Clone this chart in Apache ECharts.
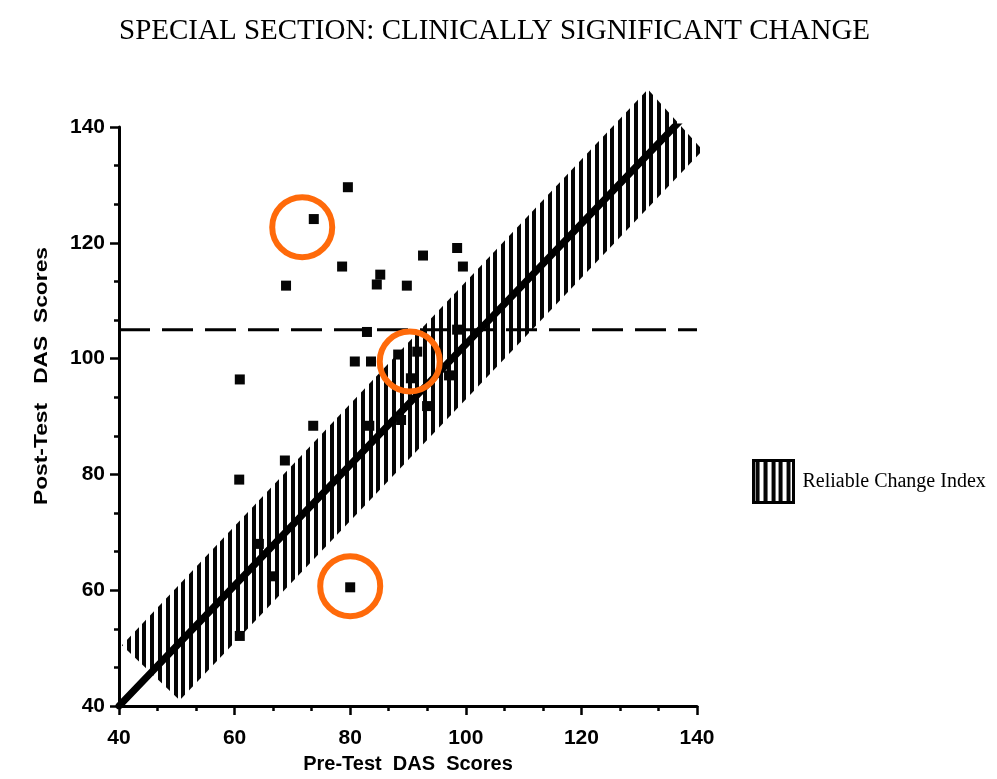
<!DOCTYPE html>
<html>
<head>
<meta charset="utf-8">
<script src="https://cdn.jsdelivr.net/npm/echarts@6/dist/echarts.min.js"></script>
<style>
  html, body { margin: 0; padding: 0; background: #fff; }
  #chart { width: 997px; height: 779px; }
</style>
</head>
<body>
<div id="chart"></div>
<script>
// Pre-test vs post-test DAS scores, one point per client
const preScores  = [73.7, 79.6, 68.9, 78.6, 85.2, 84.6, 89.8, 92.6, 98.5, 99.5,
                    82.9, 98.5, 80.8, 83.6, 88.3, 91.6, 90.5, 97.1, 93.3, 88.8,
                    83.3, 73.6, 60.9, 68.7, 60.8, 64.2, 66.6, 60.9, 80.0];
const postScores = [124.1, 129.6, 112.6, 115.9, 114.5, 112.8, 112.6, 117.8, 119.1, 115.9,
                    104.6, 105.0, 99.5, 99.5, 100.7, 101.2, 96.6, 97.1, 91.8, 89.4,
                    88.4, 88.4, 96.4, 82.4, 79.1, 68.0, 62.4, 52.1, 60.5];

// No-change diagonal (pre = post)
const diagX = [40, 137];
const diagY = [40, 141];

// Reliable Change Index band around the diagonal (corner points)
const bandX = [40.5, 131.5, 141, 50.5];
const bandY = [50.5, 146.5, 136, 41];

// Cutoff for the functional (clinical) range
const cutoffX = [40, 140];
const cutoffY = [105, 105];

// Highlighted clients
const markX = [71.7, 90.3, 80.0];
const markY = [122.7, 99.5, 60.7];

const axisTicks = { min: 40, max: 140, interval: 20 };
const titleText = 'SPECIAL SECTION: CLINICALLY SIGNIFICANT CHANGE';
const xName = 'Pre-Test  DAS  Scores';
const yName = 'Post-Test   DAS  Scores';
const bandName = 'Reliable Change Index';

// vertical hatch texture for the RCI band
function hatchPattern() {
  const c = document.createElement('canvas');
  c.width = 39; c.height = 8;
  const ctx = c.getContext('2d');
  ctx.fillStyle = '#ffffff';
  ctx.fillRect(0, 0, c.width, c.height);
  ctx.fillStyle = '#050505';
  for (let i = 0; i < 5; i++) {
    ctx.fillRect(Math.round(i * 7.8) + 2, 0, 4, c.height);
  }
  return { image: c, repeat: 'repeat' };
}
const hatch = hatchPattern();

const zip = (a, b) => a.map((v, i) => [v, b[i]]);

const chart = echarts.init(document.getElementById('chart'), null, { renderer: 'canvas' });

const axisCommon = {
  type: 'value',
  min: axisTicks.min, max: axisTicks.max, interval: axisTicks.interval,
  axisLine: { show: true, lineStyle: { color: '#000', width: 3 } },
  axisTick: { show: true, length: 9, lineStyle: { color: '#000', width: 2.5 } },
  minorTick: { show: true, splitNumber: 3, length: 5, lineStyle: { color: '#000', width: 2.5 } },
  splitLine: { show: false },
  axisLabel: { color: '#000', fontFamily: 'Liberation Sans', fontWeight: 'bold', fontSize: 21 }
};

chart.setOption({
  backgroundColor: '#fff',
  animation: false,
  title: {
    text: titleText,
    left: 114, top: 12,
    textStyle: { fontFamily: 'Liberation Serif', fontWeight: 'normal', fontSize: 29, color: '#000' }
  },
  legend: {
    left: 752, top: 459,
    padding: 0,
    orient: 'vertical',
    itemWidth: 40, itemHeight: 42,
    selectedMode: false,
    textStyle: { fontFamily: 'Liberation Serif', fontSize: 20, color: '#000', padding: [0, 0, 0, 4] },
    data: [{ name: bandName, icon: 'rect', itemStyle: { color: hatch, borderColor: '#000', borderWidth: 3 } }]
  },
  grid: { left: 119, right: 300, top: 127, bottom: 68, containLabel: false },
  xAxis: Object.assign({}, axisCommon, {
    name: xName, nameLocation: 'middle', nameGap: 48,
    nameTextStyle: { fontFamily: 'Liberation Sans', fontWeight: 'bold', fontSize: 20, color: '#000' },
    axisLabel: Object.assign({}, axisCommon.axisLabel, { margin: 22 })
  }),
  yAxis: Object.assign({}, axisCommon, {
    axisLabel: Object.assign({}, axisCommon.axisLabel, { margin: 14 })
  }),
  graphic: [{
    type: 'text',
    left: 32, top: 247,
    rotation: Math.PI / 2,
    scaleX: 1.2,
    style: { text: yName, fontFamily: 'Liberation Sans', fontWeight: 'bold', fontSize: 19, fill: '#000' }
  }],
  series: [
    {
      name: bandName,
      type: 'custom',
      coordinateSystem: 'cartesian2d',
      data: zip(bandX, bandY),
      itemStyle: { color: hatch },
      z: 1,
      renderItem: function (params, api) {
        if (params.dataIndex !== 0) return null;
        const pts = bandX.map((x, i) => api.coord([x, bandY[i]]));
        return { type: 'polygon', shape: { points: pts }, style: { fill: hatch, stroke: null } };
      },
      silent: true
    },
    {
      type: 'line',
      data: zip(diagX, diagY),
      symbol: 'none',
      lineStyle: { color: '#000', width: 7, cap: 'round' },
      z: 3, silent: true
    },
    {
      type: 'line',
      data: zip(cutoffX, cutoffY),
      symbol: 'none',
      lineStyle: { color: '#000', width: 3, type: [31, 12] },
      z: 3, silent: true
    },
    {
      type: 'scatter',
      data: zip(preScores, postScores),
      symbol: 'rect',
      symbolSize: 10,
      itemStyle: { color: '#050505', opacity: 1 },
      z: 4, silent: true
    },
    {
      type: 'scatter',
      data: zip(markX, markY),
      symbol: 'circle',
      symbolSize: 60,
      itemStyle: { color: 'rgba(0,0,0,0)', borderColor: '#ff6a0a', borderWidth: 6, opacity: 1 },
      z: 5, silent: true
    }
  ]
});
</script>
</body>
</html>
